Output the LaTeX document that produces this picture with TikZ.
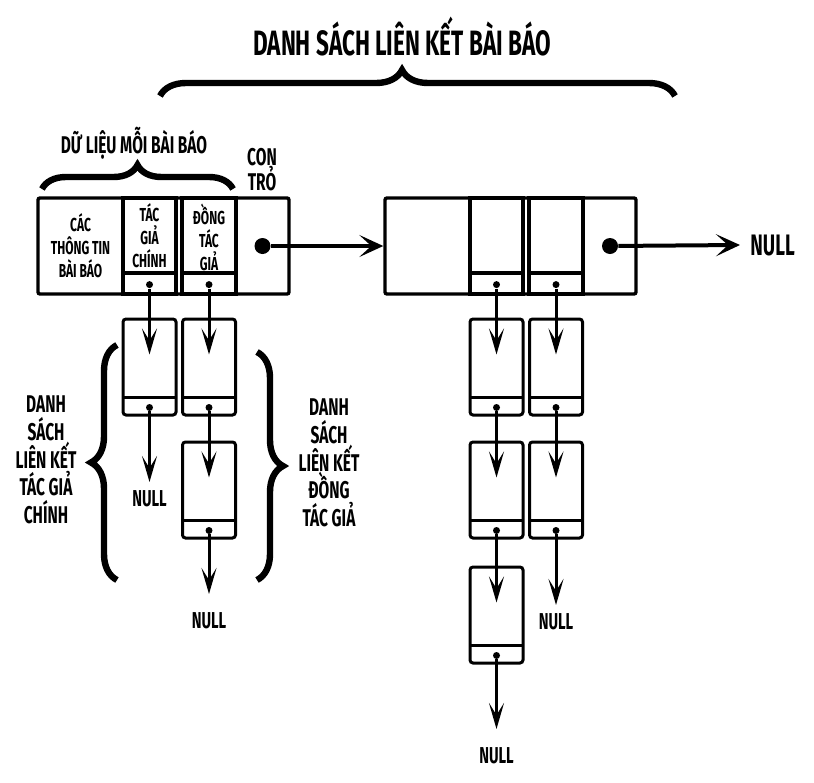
\documentclass[tikz,border=0pt]{standalone}
\usepackage{fontspec}
\setmainfont{Fira Sans}[FakeStretch=0.64]
\usetikzlibrary{arrows.meta,decorations.pathreplacing,calc}

\newcommand{\headfont}{\fontsize{17.6}{20}\selectfont\bfseries}
\newcommand{\labelfont}{\fontsize{12.1}{13.9}\selectfont\bfseries}
\newcommand{\cellfont}{\fontsize{9.4}{11.5}\selectfont\bfseries}
\newcommand{\nilfont}{\fontsize{11.5}{13}\selectfont\bfseries}

\begin{document}
\begin{tikzpicture}[
    x=0.5pt, y=-0.5pt,
    artbox/.style={draw, line width=1.7pt, rounded corners=1pt, minimum width=125.5pt, minimum height=48pt, inner sep=0pt},
    field/.style={draw, line width=1.6pt, minimum width=#1, minimum height=48pt, inner sep=0pt,
        path picture={\draw[line width=1.6pt] ([yshift=10.5pt]path picture bounding box.south west) -- ([yshift=10.5pt]path picture bounding box.south east);}},
    lnode/.style={draw, line width=1.5pt, rounded corners=1.5pt, minimum width=26.5pt, minimum height=48pt, inner sep=0pt,
        path picture={\draw[line width=1.5pt] ([yshift=9pt]path picture bounding box.south west) -- ([yshift=9pt]path picture bounding box.south east);}},
    cell/.style={font=\cellfont, align=center, inner sep=0pt},
    sidetext/.style={font=\labelfont, align=center, inner sep=0pt},
    nullst/.style={font=\nilfont, inner xsep=0pt, inner ysep=4pt},
    dot/.style={circle, fill, inner sep=0pt, minimum size=3.5pt},
    bigdot/.style={circle, fill, inner sep=0pt, minimum size=8pt},
    arrow/.style={-{Stealth[length=13pt, width=7.5pt, inset=6pt]}, line width=1.5pt},
    mainarrow/.style={-{Stealth[length=12pt, width=11pt, inset=6pt]}, line width=2pt},
    curly/.style={decorate, decoration={brace, amplitude=#1}, line width=3.2pt}
]
    \useasboundingbox (0,0) rectangle (814,782);

    % Title and top brace
    \node[font=\headfont, anchor=base] (title) at (402,55) {DANH SÁCH LIÊN KẾT BÀI BÁO};
    \draw[curly=13pt, decoration={aspect=0.47}] (160,96) -- (675,96);

    % Labels above the first article
    \node[font=\labelfont, anchor=base, inner sep=0pt] (datalbl) at (134,153) {DỮ LIỆU MỖI BÀI BÁO};
    \draw[curly=12pt] (42,189) -- (233,189);
    \node[sidetext, font=\fontsize{12.1}{12.5}\selectfont\bfseries] (ptrlbl) at (262,170) {CON\\TRỎ};

    % First article
    \node[artbox] (art1) at (163.5,246) {};
    \node[field=26.5pt] (auth1) at (149.5,246) {};
    \node[field=27pt] (coa1) at (209,246) {};
    \node[cell] (info1) at (80.5,246) {CÁC\\THÔNG TIN\\BÀI BÁO};
    \node[cell] (authtxt1) at (149.5,236) {TÁC\\GIẢ\\CHÍNH};
    \node[cell] (coatxt1) at (209,237) {ĐỒNG\\TÁC\\GIẢ};
    \node[bigdot] (ptr1) at (262.5,246) {};
    \node[dot] (auth1d) at ([yshift=5.5pt]auth1.south) {};
    \node[dot] (coa1d) at ([yshift=5.5pt]coa1.south) {};

    % Second article
    \node[artbox] (art2) at (510.5,246) {};
    \node[field=26.5pt] (auth2) at (496.5,246) {};
    \node[field=27pt] (coa2) at (556,246) {};
    \node[bigdot] (ptr2) at (610,246) {};
    \node[dot] (auth2d) at ([yshift=5.5pt]auth2.south) {};
    \node[dot] (coa2d) at ([yshift=5.5pt]coa2.south) {};
    \node[font=\fontsize{14.8}{16}\selectfont\bfseries, anchor=west, inner xsep=5pt, inner ysep=0pt] (null0) at (740,245) {NULL};

    % Article links
    \draw[mainarrow] (ptr1) -- (art2.west);
    \draw[mainarrow] (ptr2) -- (null0.west);

    % Author lists of the first article
    \node[lnode] (ma1) at (149.5,367) {};
    \node[lnode] (co1) at (209,367) {};
    \node[lnode] (co2) at (209,490) {};
    \node[dot] (ma1d) at ([yshift=4.5pt]ma1.south) {};
    \node[dot] (co1d) at ([yshift=4.5pt]co1.south) {};
    \node[dot] (co2d) at ([yshift=4.5pt]co2.south) {};
    \node[nullst, anchor=north] (null1) at (149.5,482) {NULL};
    \node[nullst, anchor=north] (null2) at (209,604) {NULL};

    \draw[arrow] (auth1d) -- ([yshift=-18.5pt]ma1.north);
    \draw[arrow] (coa1d) -- ([yshift=-18.5pt]co1.north);
    \draw[arrow] (co1d) -- ([yshift=-18.5pt]co2.north);
    \draw[arrow] (ma1d) -- (null1.north);
    \draw[arrow, shorten >=5pt] (co2d) -- (null2.north);

    % Author lists of the second article
    \node[lnode] (mb1) at (496.5,367) {};
    \node[lnode] (mb2) at (496.5,490) {};
    \node[lnode] (mb3) at (496.5,615) {};
    \node[lnode] (cb1) at (556,367) {};
    \node[lnode] (cb2) at (556,490) {};
    \node[dot] (mb1d) at ([yshift=4.5pt]mb1.south) {};
    \node[dot] (mb2d) at ([yshift=4.5pt]mb2.south) {};
    \node[dot] (mb3d) at ([yshift=4.5pt]mb3.south) {};
    \node[dot] (cb1d) at ([yshift=4.5pt]cb1.south) {};
    \node[dot] (cb2d) at ([yshift=4.5pt]cb2.south) {};
    \node[nullst, anchor=north] (null3) at (496.5,739) {NULL};
    \node[nullst, anchor=north] (null4) at (556,605) {NULL};

    \draw[arrow] (auth2d) -- ([yshift=-18.5pt]mb1.north);
    \draw[arrow] (mb1d) -- ([yshift=-18.5pt]mb2.north);
    \draw[arrow] (mb2d) -- ([yshift=-18.5pt]mb3.north);
    \draw[arrow, shorten >=5pt] (mb3d) -- (null3.north);
    \draw[arrow] (coa2d) -- ([yshift=-18.5pt]cb1.north);
    \draw[arrow] (cb1d) -- ([yshift=-18.5pt]cb2.north);
    \draw[arrow] (cb2d) -- (null4.north);

    % Side braces and their labels
    \draw[curly=13pt] (117,580) -- (117,345);
    \node[sidetext] (mainlbl) at (46,460) {DANH\\SÁCH\\LIÊN KẾT\\TÁC GIẢ\\CHÍNH};
    \draw[curly=13pt] (257,352) -- (257,580);
    \node[sidetext] (colbl) at (329,463) {DANH\\SÁCH\\LIÊN KẾT\\ĐỒNG\\TÁC GIẢ};
\end{tikzpicture}
\end{document}
